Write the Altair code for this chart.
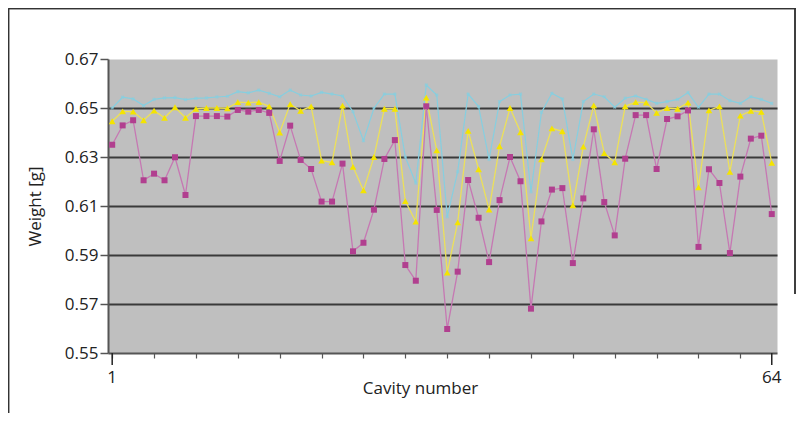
import altair as alt
import pandas as pd

cavities = list(range(1, 65))

magenta = [0.635, 0.6429, 0.645, 0.6205, 0.6232, 0.6205, 0.6299, 0.6145, 0.6467, 0.6467,
           0.6467, 0.6465, 0.6492, 0.6485, 0.6492, 0.648, 0.6284, 0.6428, 0.6288, 0.6251,
           0.6118, 0.6118, 0.6273, 0.5915, 0.595, 0.6085, 0.6292, 0.6369, 0.5859, 0.5795,
           0.6507, 0.6084, 0.5598, 0.5832, 0.6206, 0.6052, 0.5871, 0.6124, 0.63, 0.6201,
           0.5681, 0.6037, 0.6167, 0.6173, 0.5867, 0.6131, 0.6413, 0.6116, 0.598, 0.6293,
           0.6471, 0.6471, 0.6251, 0.6455, 0.6466, 0.649, 0.5933, 0.625, 0.6194, 0.5908,
           0.622, 0.6375, 0.6387, 0.6067]

yellow = [0.6446, 0.6486, 0.6485, 0.645, 0.6489, 0.646, 0.6503, 0.646, 0.6497, 0.65,
          0.65, 0.6499, 0.6524, 0.6522, 0.6524, 0.6507, 0.64, 0.6516, 0.6488, 0.6507,
          0.6285, 0.6278, 0.651, 0.626, 0.6164, 0.63, 0.6497, 0.6497, 0.612, 0.6036,
          0.6542, 0.6327, 0.5828, 0.6033, 0.6407, 0.625, 0.6085, 0.6344, 0.65, 0.6401,
          0.5968, 0.629, 0.6417, 0.6405, 0.6103, 0.6342, 0.6511, 0.6316, 0.6278, 0.6507,
          0.6524, 0.6522, 0.648, 0.65, 0.6497, 0.6522, 0.6176, 0.649, 0.6507, 0.6239,
          0.6469, 0.6488, 0.6484, 0.6276]

cyan = [0.650, 0.6544, 0.6537, 0.651, 0.6535, 0.6541, 0.6542, 0.6534, 0.6539, 0.6541,
        0.6545, 0.6548, 0.6567, 0.6562, 0.6573, 0.656, 0.6546, 0.6573, 0.6553, 0.6549,
        0.6564, 0.6557, 0.6549, 0.6485, 0.6367, 0.6499, 0.6557, 0.6557, 0.630, 0.6193,
        0.6594, 0.6553, 0.6056, 0.624, 0.6557, 0.6506, 0.629, 0.6526, 0.6553, 0.6557,
        0.6158, 0.6482, 0.656, 0.6537, 0.629, 0.6526, 0.6557, 0.6546, 0.6503, 0.654,
        0.6549, 0.6535, 0.6519, 0.6526, 0.6535, 0.6563, 0.6503, 0.6557, 0.6557, 0.653,
        0.6519, 0.6546, 0.6535, 0.6519]

y_ticks = [0.55, 0.57, 0.59, 0.61, 0.63, 0.65, 0.67]
x_labelled = [1, 64]
x_label_text = ["1", "64"]

FONT = "Open Sans"
W, H = 669, 294

df_m = pd.DataFrame({"cavity": cavities, "w": magenta})
df_y = pd.DataFrame({"cavity": cavities, "w": yellow})
df_c = pd.DataFrame({"cavity": cavities, "w": cyan})
df_lab = pd.DataFrame({"cavity": x_labelled, "txt": x_label_text})

xscale = alt.Scale(domain=[0.6, 64.5], nice=False, zero=False)
yscale = alt.Scale(domain=[0.55, 0.67], nice=False, zero=False)

x_enc = alt.X("cavity:Q", scale=xscale, axis=alt.Axis(
    values=cavities, labels=False,
    title="Cavity number", titleFont=FONT, titleFontSize=17, titleFontWeight="normal",
    titleColor="#222", titleX=312, titleY=35, titleBaseline="middle", titleAnchor="start",
    titleAlign="center",
    tickSize=5, tickColor="#555", tickWidth=1.2,
    domainColor="#555", domainWidth=2, grid=False))

y_enc = alt.Y("w:Q", scale=yscale, axis=alt.Axis(
    values=y_ticks, format=".2f",
    title="Weight [g]", titleFont=FONT, titleFontSize=17, titleFontWeight="normal",
    titleColor="#222", titleX=-73, titleY=147, titleAngle=270, titleAlign="center",
    titleBaseline="middle",
    labelFont=FONT, labelFontSize=17, labelColor="#222", labelPadding=2,
    tickSize=8, tickColor="#555", tickWidth=1.5,
    domainColor="#555", domainWidth=2,
    grid=True, gridColor="#3a3a3a", gridWidth=2,
    gridOpacity={"condition": {"test": "datum.value > 0.665 || datum.value < 0.555", "value": 0}, "value": 1}))

cyan_line = alt.Chart(df_c).mark_line(color="#86cfe0", strokeWidth=1.2).encode(x=x_enc, y=y_enc)
cyan_pts = alt.Chart(df_c).mark_point(shape="cross", angle=45, filled=True, size=14,
                                      color="#86cfe0").encode(x="cavity:Q", y="w:Q")

yel_line = alt.Chart(df_y).mark_line(color="#ece05a", strokeWidth=1.3).encode(x="cavity:Q", y="w:Q")
yel_pts = alt.Chart(df_y).mark_point(shape="triangle-up", filled=True, size=45, opacity=1,
                                     color="#f4e400").encode(x="cavity:Q", y="w:Q")

mag_line = alt.Chart(df_m).mark_line(color="#c678b3", strokeWidth=1.3).encode(x="cavity:Q", y="w:Q")
mag_pts = alt.Chart(df_m).mark_point(shape="square", filled=True, size=36, opacity=1,
                                     color="#b13f8f").encode(x="cavity:Q", y="w:Q")

long_ticks = alt.Chart(df_lab).mark_rule(color="#222", strokeWidth=1.5).encode(
    x="cavity:Q", y=alt.value(H), y2=alt.value(H + 12))

x_labels = alt.Chart(df_lab).mark_text(font=FONT, fontSize=17, color="#222",
                                       baseline="middle", align="center").encode(
    x="cavity:Q", y=alt.value(H + 25), text="txt:N")

frame_top = alt.Chart(df_lab).mark_rule(color="#333", strokeWidth=1.5).encode(
    x=alt.value(-99.5), x2=alt.value(688), y=alt.value(-50.5))
frame_left = alt.Chart(df_lab).mark_rule(color="#333", strokeWidth=1.5).encode(
    x=alt.value(-99.5), y=alt.value(-50.5), y2=alt.value(360))
frame_right = alt.Chart(df_lab).mark_rule(color="#333", strokeWidth=1.5).encode(
    x=alt.value(687), y=alt.value(-50.5), y2=alt.value(235))

chart = alt.layer(
    cyan_line, cyan_pts, yel_line, yel_pts, mag_line, mag_pts, long_ticks, x_labels,
    frame_top, frame_left, frame_right
).properties(
    width=W, height=H,
    autosize=alt.AutoSizeParams(type="none"),
    padding={"left": 100, "top": 51, "right": 20, "bottom": 60},
    background="white",
).configure_view(fill="#bfbfbf", stroke="transparent")

chart.save("out.html", embed_options={"renderer": "svg", "actions": False})
